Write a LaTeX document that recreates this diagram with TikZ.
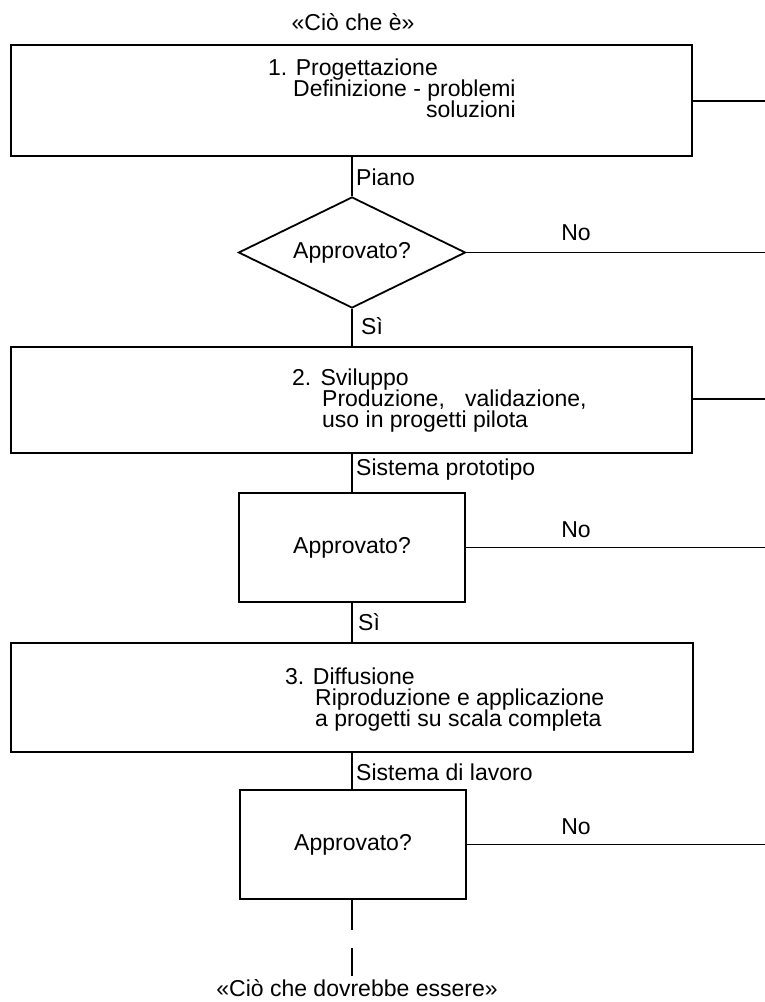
\documentclass[tikz,border=0pt]{standalone}
\usepackage{fontspec}
\setmainfont{Liberation Sans}
\usetikzlibrary{shapes.geometric}
\begin{document}
\begin{tikzpicture}[x=1pt,y=-1pt,
  font=\fontsize{23pt}{21pt}\selectfont,
  box/.style={draw,line width=1.8pt,minimum width=681pt,inner sep=0pt,anchor=north west},
  abox/.style={draw,line width=1.8pt,minimum width=226pt,minimum height=109pt,inner sep=0pt},
  dec/.style={draw,shape=diamond,line width=1.8pt,minimum width=227pt,minimum height=111pt,inner sep=0pt,aspect=2},
  txt/.style={inner sep=0pt,anchor=base west},
  lbl/.style={inner sep=0pt,anchor=west},
  conn/.style={line width=1.5pt}]
\useasboundingbox (0,0) rectangle (765,1002);

% title
\node (top) at (353,22) {«Ciò che è»};

% main boxes
\node[box,minimum height=111pt] (b1) at (10,44) {};
\node[box,minimum height=106pt] (b2) at (10,346) {};
\node[box,minimum height=109pt,minimum width=682pt] (b3) at (10,642) {};

% decisions
\node[dec] (d1) at (352,252.5) {Approvato?};
\node[abox] (a2) at (352,547.5) {Approvato?};
\node[abox] (a3) at (353,844.5) {Approvato?};

% texts in box 1
\node[txt] (t11) at (268,75) {1. Progettazione};
\node[txt] (t12) at (293,96) {Definizione - problemi};
\node[inner sep=0pt,anchor=base east] (t13) at ([yshift=-21pt]t12.base east) {soluzioni};

% texts in box 2
\node[txt] (t21) at (292,385) {2.\hspace{0.4em}Sviluppo};
\node[txt] (t22) at (322,406) {Produzione,\hspace{0.6em} validazione,};
\node[txt] (t23) at (322,427) {uso in progetti pilota};

% texts in box 3
\node[txt] (t31) at (285,684) {3. Diffusione};
\node[txt] (t32) at (315,705) {Riproduzione e applicazione};
\node[txt] (t33) at (315,726) {a progetti su scala completa};

% right edge coordinates
\coordinate (r1) at (765,101);
\coordinate (r2) at (765,399);
\coordinate (e) at (352,976);

% vertical connectors
\draw[conn] (d1.north |- b1.south) -- (d1.north);
\draw[conn] (d1.south) -- (d1.south |- b2.north);
\draw[conn] (a2.north |- b2.south) -- (a2.north);
\draw[conn] (a2.south) -- (a2.south |- b3.north);
\draw[conn] (a3.north -| a2.north) -- (a2.north |- b3.south);
\draw[line width=1.8pt,dash pattern=on 30pt off 18pt] (a3.south -| e) -- (e);

% edge labels
\node[lbl] (piano) at (356,177) {Piano};
\node[lbl] (si1) at (361,326) {Sì};
\node[lbl] (sp) at (356,470) {Sistema prototipo};
\node[lbl] (si2) at (358,622) {Sì};
\node[lbl] (sl) at (356,772) {Sistema di lavoro};

% right lines
\draw[conn] (b1.east |- r1) -- (r1);
\draw[conn] (b2.east |- r2) -- (r2);
\draw[conn] (d1.east) -- (d1.east -| r1);
\draw[conn] (a2.east) -- (a2.east -| r1);
\draw[conn] (a3.east) -- (a3.east -| r1);

% No labels
\node (no1) at (576,233) {No};
\node (no2) at (576,530) {No};
\node (no3) at (576,827) {No};

% bottom text
\node (bot) at (357,988) {«Ciò che dovrebbe essere»};
\end{tikzpicture}
\end{document}
